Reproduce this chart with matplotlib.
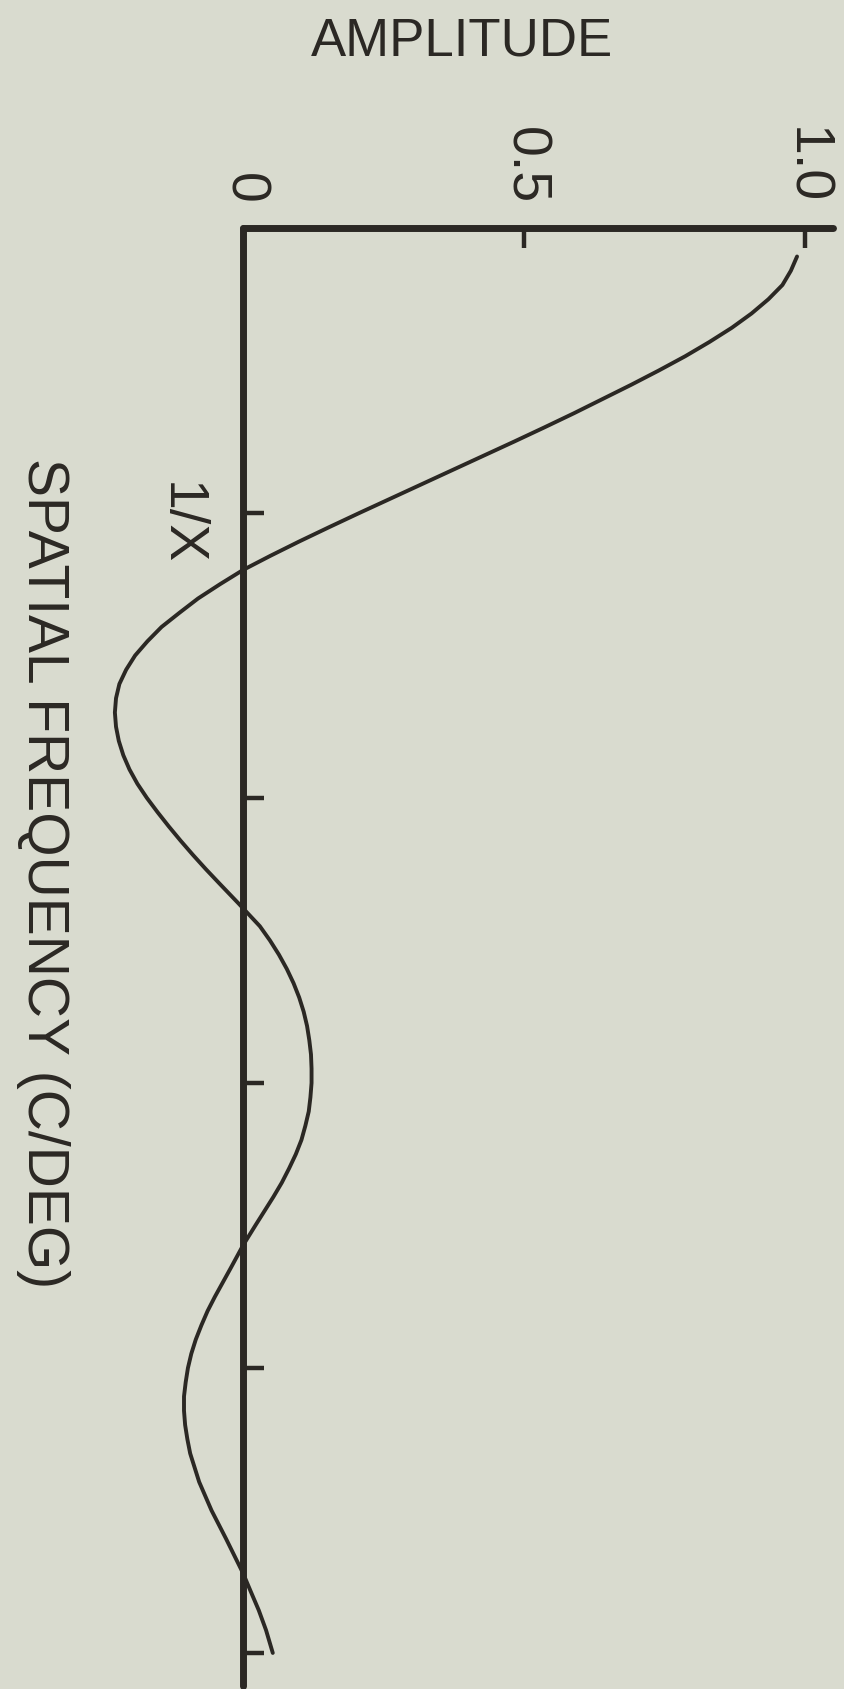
import matplotlib
matplotlib.use("Agg")
import matplotlib.pyplot as plt
from matplotlib.transforms import ScaledTranslation

# Spatial frequency in units of 1/X, and the response amplitude at each frequency
frequency = [0.10, 0.15, 0.20, 0.25, 0.30, 0.35, 0.40, 0.45, 0.50, 0.55,
             0.60, 0.65, 0.70, 0.75, 0.80, 0.85, 0.90, 0.95, 1.00, 1.05,
             1.10, 1.15, 1.20, 1.25, 1.30, 1.35, 1.40, 1.45, 1.50, 1.55,
             1.60, 1.65, 1.70, 1.75, 1.80, 1.85, 1.90, 1.95, 2.00, 2.05,
             2.10, 2.15, 2.20, 2.25, 2.30, 2.37, 2.45, 2.50, 2.55, 2.60,
             2.65, 2.70, 2.75, 2.80, 2.85, 2.90, 2.95, 3.00, 3.05, 3.10,
             3.15, 3.20, 3.25, 3.30, 3.35, 3.40, 3.45, 3.50, 3.57, 3.65,
             3.70, 3.75, 3.80, 3.85, 3.90, 3.95, 4.00, 4.05, 4.10, 4.15,
             4.20, 4.25, 4.30, 4.35, 4.40, 4.45, 4.50, 4.55, 4.60, 4.66,
             4.72, 4.79, 4.85, 4.92, 5.00]
amplitude = [0.986, 0.975, 0.960, 0.935, 0.905, 0.870, 0.830, 0.787, 0.740, 0.691,
             0.640, 0.589, 0.536, 0.482, 0.427, 0.372, 0.317, 0.262, 0.207, 0.153,
             0.100, 0.049, 0.000, -0.041, -0.080, -0.113, -0.145, -0.170, -0.192, -0.208,
             -0.220, -0.226, -0.228, -0.226, -0.221, -0.213, -0.202, -0.188, -0.171, -0.152,
             -0.132, -0.111, -0.089, -0.066, -0.042, -0.008, 0.030, 0.048, 0.064, 0.078,
             0.090, 0.100, 0.108, 0.114, 0.118, 0.121, 0.122, 0.122, 0.120, 0.117,
             0.111, 0.104, 0.094, 0.082, 0.069, 0.054, 0.038, 0.022, 0.000, -0.022,
             -0.036, -0.050, -0.063, -0.074, -0.084, -0.092, -0.098, -0.102, -0.105, -0.105,
             -0.103, -0.099, -0.094, -0.086, -0.078, -0.067, -0.056, -0.043, -0.030, -0.015,
             0.000, 0.015, 0.028, 0.041, 0.053]

amp_ticks = [0.0, 0.5, 1.0]
amp_tick_labels = ["0", "0.5", "1.0"]
freq_ticks = [1, 2, 3, 4, 5]
freq_tick_labels = ["1/X", "", "", "", ""]

BG = "#d9dbcf"
INK = "#2b2824"
SANS = ["Liberation Sans", "DejaVu Sans"]

W, H = 844, 1690
fig = plt.figure(figsize=(W / 100, H / 100), dpi=100, facecolor=BG)
ax = fig.add_axes([243 / W, (H - 1687) / H, (833 - 243) / W, (1687 - 229) / H])
ax.set_facecolor("none")

ax.plot(amplitude, frequency, color=INK, lw=2.8, solid_capstyle="round",
        solid_joinstyle="round", clip_on=False, zorder=3)

ax.set_xlim(0, 1.05)
ax.set_ylim(5.116, 0)

for side in ("right", "bottom"):
    ax.spines[side].set_visible(False)
for side in ("left", "top"):
    ax.spines[side].set_color(INK)
    ax.spines[side].set_linewidth(5.0)
    ax.spines[side].set_capstyle("round")

ax.xaxis.tick_top()
ax.set_xticks(amp_ticks)
ax.set_xticklabels(amp_tick_labels, rotation=-90, family=SANS, fontsize=40,
                   color=INK, va="bottom", ha="center")
ax.set_yticks(freq_ticks)
ax.set_yticklabels(freq_tick_labels, rotation=-90, family=SANS, fontsize=40,
                   color=INK, va="center", ha="right")
ax.tick_params(axis="x", direction="in", length=14.5, width=3.2, color=INK, pad=18)
ax.tick_params(axis="y", direction="in", length=15, width=3.2, color=INK, pad=27)

# nudge the 1/X label slightly down along the frequency axis
shift = ScaledTranslation(0, -0.10, fig.dpi_scale_trans)
for lab in ax.get_yticklabels():
    lab.set_transform(lab.get_transform() + shift)

fig.text(462 / W, 1 - 42 / H, "AMPLITUDE", family=SANS, fontsize=38,
         color=INK, ha="center", va="center")
fig.text(43 / W, 1 - 873 / H, "SPATIAL FREQUENCY (C/DEG)", family=SANS,
         fontsize=41, color=INK, rotation=-90, ha="center", va="center")

fig.savefig("out.png", dpi=100, facecolor=BG)
